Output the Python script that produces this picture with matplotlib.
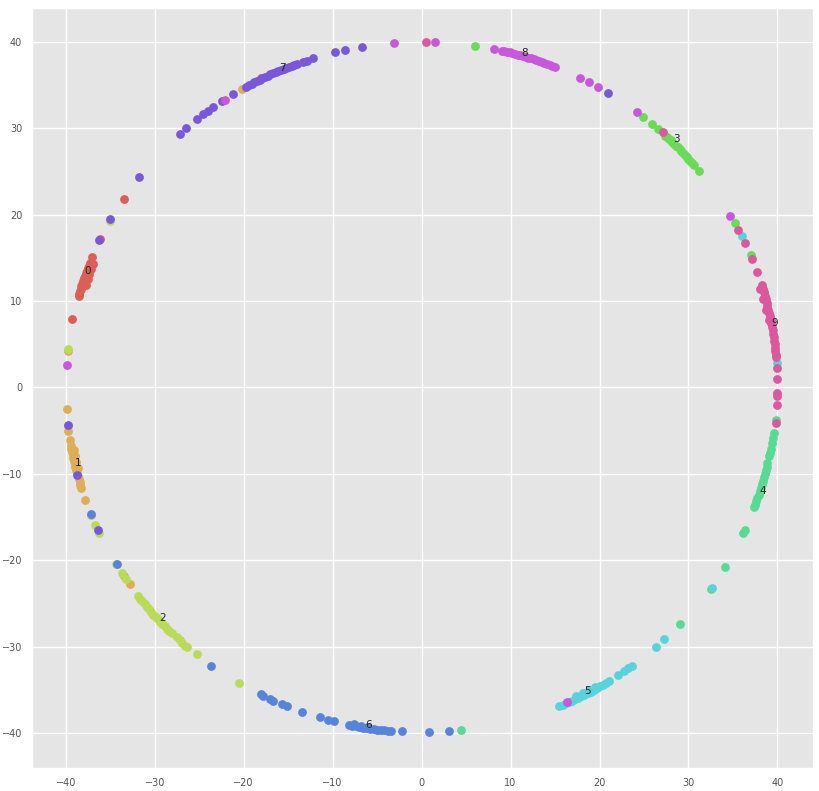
import matplotlib
matplotlib.use("Agg")
import matplotlib.pyplot as plt
import seaborn as sns

# Puntos, uno por clase (0..9)
x0 = [-37.32, -37.43, -37.54, -37.65, -37.76, -37.86, -37.96, -38.06, -38.16, -38.25,
      -38.34, -38.43, -38.51, -38.57,
      -36.95, -37.15, -37.35, -37.55, -37.7,
      -37.0, -36.1, -33.5, -39.25, -18.0]
y0 = [14.4, 14.1, 13.8, 13.5, 13.2, 12.9, 12.6, 12.3, 12.0, 11.7,
      11.4, 11.1, 10.8, 10.6,
      14.3, 13.7, 13.1, 12.5, 11.9,
      15.1, 17.2, 21.85, 7.9, 35.8]

x1 = [-39.42, -39.36, -39.29, -39.22, -39.15, -39.08, -39.0, -38.92, -38.83, -38.74,
      -38.65, -38.56, -38.46, -38.36, -38.25,
      -39.1, -38.95, -38.8, -38.6,
      -39.9, -39.7, -39.7, -39.5, -37.8, -37.15, -39.7, -20.2, -33.5, -32.8]
y1 = [-6.8, -7.15, -7.5, -7.85, -8.2, -8.55, -8.9, -9.25, -9.6, -9.95,
      -10.3, -10.65, -11.0, -11.35, -11.7,
      -7.2, -7.9, -8.6, -9.3,
      -2.5, -4.5, -5.0, -6.1, -13.0, -14.8, 4.2, 34.5, -21.8, -22.8]

x2 = [-31.9, -31.65, -31.4, -31.15, -30.9, -30.65, -30.4, -30.15, -29.9, -29.65,
      -29.4, -29.15, -28.9, -28.65, -28.4, -28.1,
      -27.5, -27.2, -26.9, -26.6, -26.4,
      -25.3, -20.5, -34.4, -33.7, -33.2,
      -39.7, -35.05, -36.7, -36.25]
y2 = [-24.13, -24.46, -24.78, -25.09, -25.4, -25.7, -26.0, -26.29, -26.57, -26.85,
      -27.12, -27.39, -27.65, -27.91, -28.17, -28.47,
      -28.9, -29.2, -29.6, -29.9, -30.0,
      -30.85, -34.2, -20.4, -21.5, -22.2,
      4.4, 19.3, -15.95, -16.8]

x3 = [27.4, 27.6, 27.8, 28.0, 28.2, 28.4, 28.6, 28.8, 29.0, 29.2, 29.4, 29.6, 29.8,
      30.0, 30.2, 30.4, 30.6,
      24.9, 25.9, 26.6, 31.2, 6.0, 35.2, 37.0, 32.5]
y3 = [29.14, 28.95, 28.76, 28.57, 28.37, 28.17, 27.96, 27.76, 27.55, 27.34, 27.12, 26.9, 26.68,
      26.46, 26.23, 26.0, 25.76,
      31.3, 30.5, 29.9, 25.0, 39.55, 19.0, 15.3, -23.3]

x4 = [38.87, 38.78, 38.68, 38.58, 38.47, 38.36, 38.25, 38.13, 38.01, 37.88, 37.75,
      37.61, 37.47, 37.36,
      39.85, 39.6, 39.5, 39.4, 39.3, 39.2, 39.1,
      36.4, 36.1, 34.1, 29.1, 4.4]
y4 = [-8.8, -9.2, -9.6, -10.0, -10.4, -10.8, -11.2, -11.6, -12.0, -12.4, -12.8,
      -13.2, -13.6, -13.9,
      -3.75, -5.3, -5.85, -6.4, -7.1, -7.6, -8.0,
      -16.5, -16.9, -20.8, -27.4, -39.7]

x5 = [21.1, 20.75, 20.4, 20.05, 19.7, 19.35, 19.0, 18.65, 18.3, 17.95, 17.6, 17.25,
      16.9, 16.55, 16.2, 15.85, 15.5,
      19.5, 18.8, 18.1, 17.4,
      23.7, 23.2, 22.7, 22.1, 26.3, 27.3, -4.9, 39.9, 36.0, 32.6]
y5 = [-33.98, -34.2, -34.41, -34.61, -34.81, -35.01, -35.2, -35.39, -35.57, -35.75,
      -35.92, -36.09, -36.25, -36.42, -36.57, -36.73, -36.87,
      -34.7, -35.05, -35.4, -35.75,
      -32.2, -32.5, -32.8, -33.3, -30.1, -29.1, -39.6, 2.8, 17.5, -23.2]

x6 = [-8.2, -7.8, -7.4, -7.0, -6.6, -6.2, -5.8, -5.4, -5.0, -4.6, -4.2, -3.8, -3.4,
      -7.6, -6.8, -6.0,
      -2.2, 0.85, 3.1, -34.3, -37.2, -23.65, -18.1, -17.8, -17.0, -16.7,
      -15.7, -15.1, -13.5, -11.4, -10.5, -9.9]
y6 = [-39.07, -39.15, -39.23, -39.3, -39.37, -39.44, -39.5, -39.55, -39.61, -39.65,
      -39.7, -39.74, -39.78,
      -39.0, -39.15, -39.3,
      -39.8, -39.9, -39.8, -20.5, -14.6, -32.2, -35.5, -35.7, -36.1, -36.3,
      -36.7, -36.9, -37.55, -38.2, -38.5, -38.6]

x7 = [-27.2, -26.5, -25.2, -24.6, -24.0, -23.4, -22.4, -21.2,
      -19.7, -19.4, -19.1, -18.8, -18.5, -18.2, -17.9, -17.6, -17.3, -17.0,
      -16.7, -16.4, -16.1, -15.8, -15.5, -15.2, -14.9, -14.6, -14.3, -14.0,
      -13.3, -12.9, -12.2, -9.7, -8.6, -6.7, 20.9, -31.8, -35.0, -36.25,
      -39.7, -38.7, -36.4]
y7 = [29.35, 29.97, 31.1, 31.6, 32.0, 32.4, 33.1, 33.9,
      34.81, 34.98, 35.15, 35.31, 35.47, 35.62, 35.77, 35.92, 36.07, 36.21,
      36.35, 36.48, 36.62, 36.75, 36.88, 37.0, 37.12, 37.24, 37.36, 37.47,
      37.7, 37.8, 38.1, 38.8, 39.05, 39.4, 34.1, 24.3, 19.45, 17.0,
      -4.4, -10.2, -16.45]

x8 = [9.0, 9.3, 9.6, 9.9, 10.2, 10.5, 10.8, 11.1, 11.4, 11.7, 12.0, 12.3, 12.6, 12.9,
      13.2, 13.5, 13.8, 14.1, 14.4, 14.7, 15.0,
      -22.1, -3.1, 1.5, 8.1, 17.8, 18.8, 19.8, 24.2, 34.7, 16.3, -39.9]
y8 = [38.97, 38.9, 38.83, 38.76, 38.68, 38.6, 38.51, 38.43, 38.34, 38.25, 38.16, 38.06,
      37.96, 37.86, 37.76, 37.65, 37.54, 37.43, 37.32, 37.2, 37.05,
      33.3, 39.9, 40.0, 39.2, 35.85, 35.3, 34.7, 31.85, 19.8, -36.4, 2.6]

x9 = [38.22, 38.34, 38.46, 38.57, 38.68, 38.78, 38.88, 38.97, 39.06, 39.15, 39.23,
      39.31, 39.38, 39.45, 39.52, 39.58, 39.63, 39.69, 39.73, 39.78, 39.82, 39.85,
      38.0, 38.35, 38.7, 39.0,
      0.5, 27.1, 35.6, 36.3, 37.1, 37.7, 39.9, 39.9, 40.0, 40.0, 39.9, 39.8]
y9 = [11.8, 11.4, 11.0, 10.6, 10.2, 9.8, 9.4, 9.0, 8.6, 8.2, 7.8,
      7.4, 7.0, 6.6, 6.2, 5.8, 5.4, 5.0, 4.6, 4.2, 3.8, 3.5,
      11.4, 10.2, 9.0, 7.8,
      40.0, 29.5, 18.2, 16.7, 14.8, 13.4, 2.2, 0.95, -0.6, -1.0, -2.1, -4.1]

# Posicion de la etiqueta de cada clase
label_x = [-37.5, -38.6, -29.1, 28.6, 38.3, 18.6, -6.0, -15.7, 11.6, 39.7]
label_y = [13.5, -8.75, -26.7, 28.7, -12.0, -35.1, -39.05, 37.0, 38.7, 7.5]

xs = [x0, x1, x2, x3, x4, x5, x6, x7, x8, x9]
ys = [y0, y1, y2, y3, y4, y5, y6, y7, y8, y9]

plt.style.use("ggplot")
palette = sns.color_palette("hls", 10)

fig = plt.figure(figsize=(8.19, 7.91), dpi=100)
ax = fig.add_axes([32 / 819, 23 / 791, 781 / 819, 760 / 791])

for i in range(10):
    ax.scatter(xs[i], ys[i], s=40, lw=0, color=palette[i])

for i in range(10):
    ax.text(label_x[i], label_y[i], str(i), fontsize=7.5, color="#222222",
            ha="center", va="center")

ax.set_xlim(-43.8, 44.0)
ax.set_ylim(-44.05, 43.9)
ax.set_xticks([-40, -30, -20, -10, 0, 10, 20, 30, 40])
ax.set_yticks([-40, -30, -20, -10, 0, 10, 20, 30, 40])
ax.tick_params(length=0, pad=7, labelsize=7, labelcolor="#555555")
ax.grid(True, color="white", linewidth=1.0)

fig.savefig("out.png", dpi=100)
